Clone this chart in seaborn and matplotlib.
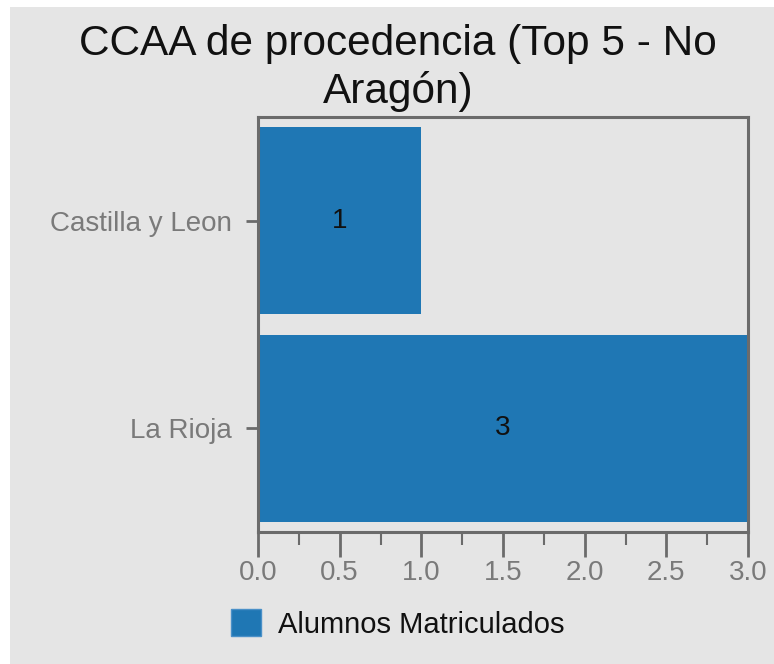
import matplotlib
matplotlib.use("Agg")
import matplotlib.pyplot as plt
import matplotlib.patches as mpatches
from matplotlib.ticker import MultipleLocator
import pandas as pd
import seaborn as sns

# data
regions = ["Castilla y Leon", "La Rioja"]
alumnos = [1, 3]
series_name = "Alumnos Matriculados"
title = "CCAA de procedencia (Top 5 - No\nAragón)"

df = pd.DataFrame({"region": regions, "alumnos": alumnos})

sns.set_theme(style="white")
plt.rcParams["font.family"] = ["Liberation Sans", "DejaVu Sans"]

bg = "#e5e5e5"
blue = "#1f77b4"
spine_col = "#6b6b6b"
tick_col = "#7a7a7a"

fig = plt.figure(figsize=(7.74, 6.64), dpi=100, facecolor="white")
# grey panel with the thin white strip at top / left
fig.patches.append(mpatches.Rectangle((10 / 774, 0), 1, 1 - 7 / 664,
                                      transform=fig.transFigure,
                                      facecolor=bg, edgecolor="none", zorder=-10))

ax = fig.add_axes([258 / 774, 1 - 532 / 664, (748 - 258) / 774, (532 - 117) / 664])
ax.set_facecolor(bg)

sns.barplot(data=df, x="alumnos", y="region", color=blue, width=0.9,
            saturation=1, ax=ax, linewidth=0)

for cont in ax.containers:
    ax.bar_label(cont, label_type="center", fontsize=20, color="#111111")

ax.set_xlim(0, 3)
ax.set_ylim(1.5, -0.5)
ax.set_xlabel("")
ax.set_ylabel("")
ax.xaxis.set_major_locator(MultipleLocator(0.5))
ax.xaxis.set_minor_locator(MultipleLocator(0.25))
ax.tick_params(axis="x", which="major", length=18, width=2, color=spine_col,
               labelsize=20, labelcolor=tick_col, pad=2, bottom=True)
ax.tick_params(axis="x", which="minor", length=9, width=1.5, color=spine_col, bottom=True)
ax.tick_params(axis="y", which="major", length=9, width=2, color=spine_col,
               labelsize=20, labelcolor=tick_col, pad=10, left=True)
for s in ax.spines.values():
    s.set_color(spine_col)
    s.set_linewidth(2.2)

fig.suptitle(title, x=398 / 774, y=1 - 24 / 664, fontsize=30.5, color="#111111",
             va="top", linespacing=1.22)

handles = [mpatches.Patch(facecolor=blue, edgecolor="#4a90c8", label=series_name)]
fig.legend(handles=handles, loc="center", bbox_to_anchor=(398 / 774, 1 - 624 / 664),
           frameon=False, fontsize=21, handlelength=1.0, handleheight=1.0,
           handletextpad=0.6, labelcolor="#111111")

fig.savefig("out.png", dpi=100, facecolor=fig.get_facecolor())
